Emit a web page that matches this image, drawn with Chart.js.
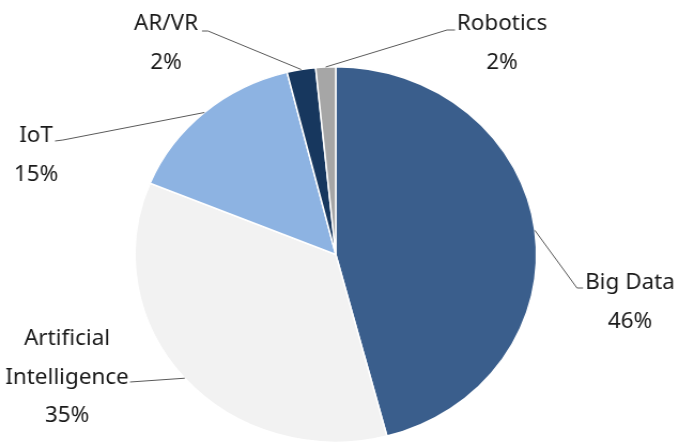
<!DOCTYPE html>
<html lang="en">
<head>
    <meta charset="UTF-8">
    <title>Technology share</title>
    <script src="https://cdn.jsdelivr.net/npm/chart.js"></script>
    <style>
        html, body {
            margin: 0;
            padding: 0;
            background: #ffffff;
            overflow: hidden;
        }
        #pieChart {
            transform: scaleX(1.0693);
            transform-origin: 0 0;
        }
    </style>
</head>
<body>
    <canvas id="pieChart" width="635" height="443"></canvas>

    <script>
        // data
        const categories = ['Big Data', 'Artificial Intelligence', 'IoT', 'AR/VR', 'Robotics'];
        const shares = [45.9, 35.3, 14.9, 2.3, 1.6];
        const sliceColors = ['#3A5E8C', '#F2F2F2', '#8DB3E2', '#17375E', '#A6A6A6'];

        // the picture is a bit wider than tall, everything is stretched by this
        const K = 679 / 635;

        // label placement (screen px, x gets divided by K)
        const labelSpots = [
            { lines: ['Big Data'], cx: 630, y: 289, path: [[577, 288], [583, 288]] },
            { lines: ['Artificial', 'Intelligence'], cx: 67, y: 345, path: [[130, 382]] },
            { lines: ['IoT'], cx: 36, y: 142, path: [[63, 140], [55, 141]] },
            { lines: ['AR/VR'], cx: 166, y: 30, path: [[208, 31], [202, 31]] },
            { lines: ['Robotics'], cx: 502, y: 30, path: [[447, 30], [455, 30]] }
        ];

        const calloutPlugin = {
            id: 'callouts',
            afterDatasetsDraw(chart) {
                const ctx = chart.ctx;
                const meta = chart.getDatasetMeta(0);
                const total = shares.reduce((a, b) => a + b, 0);
                ctx.save();
                meta.data.forEach((arc, i) => {
                    const spot = labelSpots[i];
                    const p = arc.getProps(['x', 'y', 'startAngle', 'endAngle', 'outerRadius'], true);
                    const mid = (p.startAngle + p.endAngle) / 2;
                    const ax = p.x + Math.cos(mid) * p.outerRadius;
                    const ay = p.y + Math.sin(mid) * p.outerRadius;

                    // leader line
                    ctx.strokeStyle = '#595959';
                    ctx.lineWidth = 1;
                    ctx.beginPath();
                    ctx.moveTo(ax, ay);
                    spot.path.forEach(pt => ctx.lineTo(pt[0] / K, pt[1]));
                    ctx.stroke();

                    // text
                    ctx.fillStyle = '#1a1a1a';
                    ctx.font = '21px "Noto Sans", "Open Sans", sans-serif';
                    ctx.textAlign = 'center';
                    ctx.textBaseline = 'alphabetic';
                    const lines = spot.lines.concat([Math.round(shares[i] / total * 100) + '%']);
                    lines.forEach((txt, j) => {
                        ctx.fillText(txt, spot.cx / K, spot.y + j * 38.5);
                    });
                });
                ctx.restore();
            }
        };

        const ctx = document.getElementById('pieChart').getContext('2d');
        new Chart(ctx, {
            type: 'pie',
            data: {
                labels: categories,
                datasets: [{
                    data: shares,
                    backgroundColor: sliceColors,
                    borderColor: '#ffffff',
                    borderWidth: 1.5
                }]
            },
            options: {
                responsive: false,
                animation: false,
                layout: {
                    padding: { top: 66, bottom: 0, left: 0, right: 7 }
                },
                plugins: {
                    legend: { display: false },
                    tooltip: { enabled: false }
                }
            },
            plugins: [calloutPlugin]
        });
    </script>
</body>
</html>
